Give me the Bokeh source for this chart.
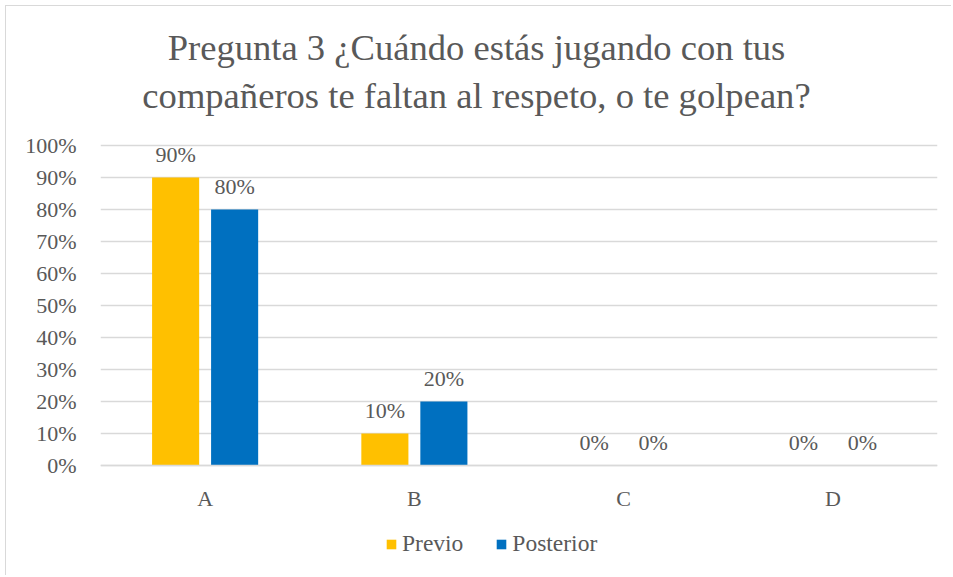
from bokeh.plotting import figure
from bokeh.models import (FactorRange, Range1d, ColumnDataSource, LabelSet, Label, Legend, LegendItem,
                          FixedTicker, NumeralTickFormatter)
from bokeh.transform import dodge
from bokeh.embed import file_html
from bokeh.resources import INLINE

categories = ["A", "B", "C", "D"]
previo = [0.90, 0.10, 0.0, 0.0]
posterior = [0.80, 0.20, 0.0, 0.0]
series_names = ["Previo", "Posterior"]
title_lines = ["Pregunta 3 ¿Cuándo estás jugando con tus",
               "compañeros te faltan al respeto, o te golpean?"]
y_ticks = [0.0, 0.1, 0.2, 0.3, 0.4, 0.5, 0.6, 0.7, 0.8, 0.9, 1.0]

FONT = "Liberation Serif"
TXT = "#595959"
GRID = "#D9D9D9"
C_PREV = "#FFC000"
C_POST = "#0070C0"

# layout (pixels): frame spans whole height so that title and legend are inside it
FRAME_W, FRAME_H = 837, 569
PX_PER_UNIT = 320            # 0% .. 100% spans 320 px
ZERO_FROM_BOTTOM = 110       # 0% line is 110 px above the frame bottom
y_start = -ZERO_FROM_BOTTOM / PX_PER_UNIT
y_end = (FRAME_H - ZERO_FROM_BOTTOM) / PX_PER_UNIT

src = ColumnDataSource(dict(
    cat=categories,
    previo=previo,
    posterior=posterior,
    previo_lbl=["{:.0%}".format(v) for v in previo],
    posterior_lbl=["{:.0%}".format(v) for v in posterior],
))

p = figure(x_range=FactorRange(factors=categories, range_padding=0),
           y_range=Range1d(y_start, y_end),
           frame_width=FRAME_W, frame_height=FRAME_H,
           output_backend="svg", toolbar_location=None,
           min_border_left=94, min_border_right=14, min_border_top=0, min_border_bottom=0)
p.styles = {"border-left": "1px solid #D9D9D9", "border-top": "1px solid #D9D9D9",
            "margin-left": "5px", "margin-top": "5px"}
p.outline_line_color = None
p.background_fill_color = "white"
p.border_fill_color = "white"

off = 0.141
bw = 0.225
r1 = p.vbar(x=dodge("cat", -off, range=p.x_range), top="previo", width=bw, source=src,
            fill_color=C_PREV, line_color=None)
r2 = p.vbar(x=dodge("cat", off, range=p.x_range), top="posterior", width=bw, source=src,
            fill_color=C_POST, line_color=None)

for field, o in (("previo", -off), ("posterior", off)):
    ls = LabelSet(x=dodge("cat", o, range=p.x_range), y=field, text=field + "_lbl", source=src,
                  text_align="center", text_baseline="middle", y_offset=23,
                  text_font=FONT, text_font_size="22px", text_color=TXT)
    p.add_layout(ls)

# axes
p.yaxis.ticker = FixedTicker(ticks=y_ticks)
p.yaxis.formatter = NumeralTickFormatter(format="0%")
p.yaxis.axis_line_color = None
p.yaxis.major_tick_line_color = None
p.yaxis.minor_tick_line_color = None
p.yaxis.major_tick_out = 0
p.yaxis.major_tick_in = 0
p.yaxis.major_label_text_font = FONT
p.yaxis.major_label_text_font_size = "22px"
p.yaxis.major_label_text_color = TXT
p.yaxis.major_label_standoff = 24

p.xaxis.fixed_location = 0
p.xaxis.axis_line_color = GRID
p.xaxis.axis_line_width = 1.5
p.xaxis.major_tick_line_color = None
p.xaxis.minor_tick_line_color = None
p.xaxis.major_tick_out = 0
p.xaxis.major_tick_in = 0
p.xaxis.major_label_text_font = FONT
p.xaxis.major_label_text_font_size = "22px"
p.xaxis.major_label_text_color = TXT
p.xaxis.major_label_standoff = 20

p.xgrid.grid_line_color = None
p.ygrid.grid_line_color = GRID
p.ygrid.grid_line_width = 1.5

# title: two centred lines (screen units, relative to frame bottom-left)
for i, line in enumerate(title_lines):
    p.add_layout(Label(x=376, y=528 - 48 * i, x_units="screen", y_units="screen", text=line,
                       text_align="center", text_baseline="middle", text_font=FONT,
                       text_font_size="36.6px", text_color=TXT))

legend = Legend(items=[LegendItem(label=series_names[0], renderers=[r1]),
                       LegendItem(label=series_names[1], renderers=[r2])],
                orientation="horizontal", location=(285, 18),
                glyph_width=12, glyph_height=12, label_standoff=5, spacing=32,
                padding=0, margin=0, border_line_color=None, background_fill_alpha=0,
                label_text_font=FONT, label_text_font_size="23.5px", label_text_color=TXT,
                label_height=24)
p.add_layout(legend)

open("out.html", "w").write(file_html(p, INLINE))
